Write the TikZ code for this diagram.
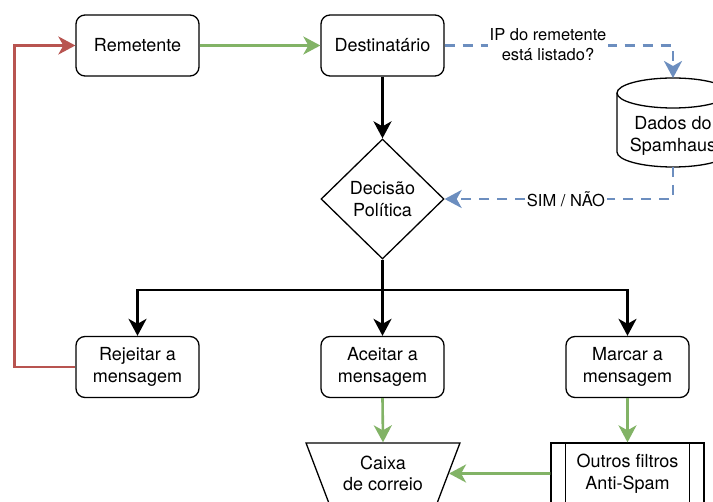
\documentclass[tikz,border=0pt]{standalone}
\usepackage{fontspec}
\setmainfont{TeX Gyre Heros}
\usetikzlibrary{arrows.meta,shapes.geometric}
\definecolor{okgreen}{HTML}{82B366}
\definecolor{nored}{HTML}{B85450}
\definecolor{qblue}{HTML}{6C8EBF}
\begin{document}
\begin{tikzpicture}[x=1pt,y=-1pt,
  every node/.style={font=\fontsize{18}{21.6}\selectfont, align=center, inner sep=0pt},
  stepbox/.style={draw, line width=1.3pt, rounded corners=9pt, minimum width=123, minimum height=61, fill=white},
  flow/.style={-{Stealth[length=17pt,width=18pt,inset=5pt]}, line width=2.6pt},
  blackflow/.style={flow, draw=black},
  greenflow/.style={flow, draw=okgreen},
  redflow/.style={flow, draw=nored},
  query/.style={flow, draw=qblue, dash pattern=on 10pt off 8pt},
  lbl/.style={font=\fontsize{16.5}{20}\selectfont, fill=white, inner sep=1.5pt}
]
\fill[white] (0,0) rectangle (713,502);
\useasboundingbox (0,0) rectangle (713,502);
\clip (0,0) rectangle (713,502);

% top row
\node[stepbox] (rem) at (137.5,45.5) {Remetente};
\node[stepbox] (dest) at (382.5,45.5) {Destinatário};

% decision
\node[draw, diamond, line width=1.3pt, minimum width=123, minimum height=120, aspect=1] (dec) at (382.5,199) {Decisão\\Política};

% Spamhaus database (cylinder)
\draw[line width=1.3pt, fill=white] (617,93) -- (617,152)
  arc[start angle=180, end angle=360, x radius=56pt, y radius=15pt] -- (729,93)
  arc[start angle=0, end angle=180, x radius=56pt, y radius=15pt] -- cycle;
\draw[line width=1.3pt] (617,93) arc[start angle=180, end angle=360, x radius=56pt, y radius=15pt];
\node (db) at (673,136) {Dados do\\Spamhaus};
\coordinate (dbtop) at (673,78);
\coordinate (dbbot) at (673,167);

% outcomes
\node[stepbox] (rej) at (137.5,367) {Rejeitar a\\mensagem};
\node[stepbox] (acc) at (382.5,367) {Aceitar a\\mensagem};
\node[stepbox] (mar) at (627.5,367) {Marcar a\\mensagem};

% mailbox and further filters
\node[draw, trapezium, shape border rotate=180, trapezium left angle=64, trapezium right angle=64,
      trapezium stretches=true, minimum width=154, minimum height=61, line width=1.3pt] (box) at (383,473.5) {Caixa\\de correio};
\node[draw, line width=1.3pt, minimum width=153, minimum height=61] (out) at (627.5,473.5) {Outros filtros\\Anti-Spam};
\draw[line width=1.3pt] ([xshift=15pt]out.north west) -- ([xshift=15pt]out.south west);
\draw[line width=1.3pt] ([xshift=-15pt]out.north east) -- ([xshift=-15pt]out.south east);

% connectors
\draw[greenflow] (rem.east) -- (dest.west);
\draw[redflow] (rej.west) -- ++(-61,0) |- (rem.west);
\draw[blackflow] (dest.south) -- (dec.north);

\draw[query] (dest.east) -| (dbtop);
\draw[query] (dbbot) |- (dec.east);
\node[lbl] (asklbl) at (548,45) {IP do remetente\\está listado?};
\node[lbl] (anslbl) at (566,199) {SIM / NÃO};

\coordinate (split) at (382.5,290);
\draw[blackflow] (dec.south) -- (acc.north);
\draw[blackflow] (dec.south) -- (split) -| (rej.north);
\draw[blackflow] (dec.south) -- (split) -| (mar.north);

\draw[greenflow] (acc.south) -- (box.north);
\draw[greenflow] (mar.south) -- (out.north);
\draw[greenflow] (out.west) -- (box);
\end{tikzpicture}
\end{document}
